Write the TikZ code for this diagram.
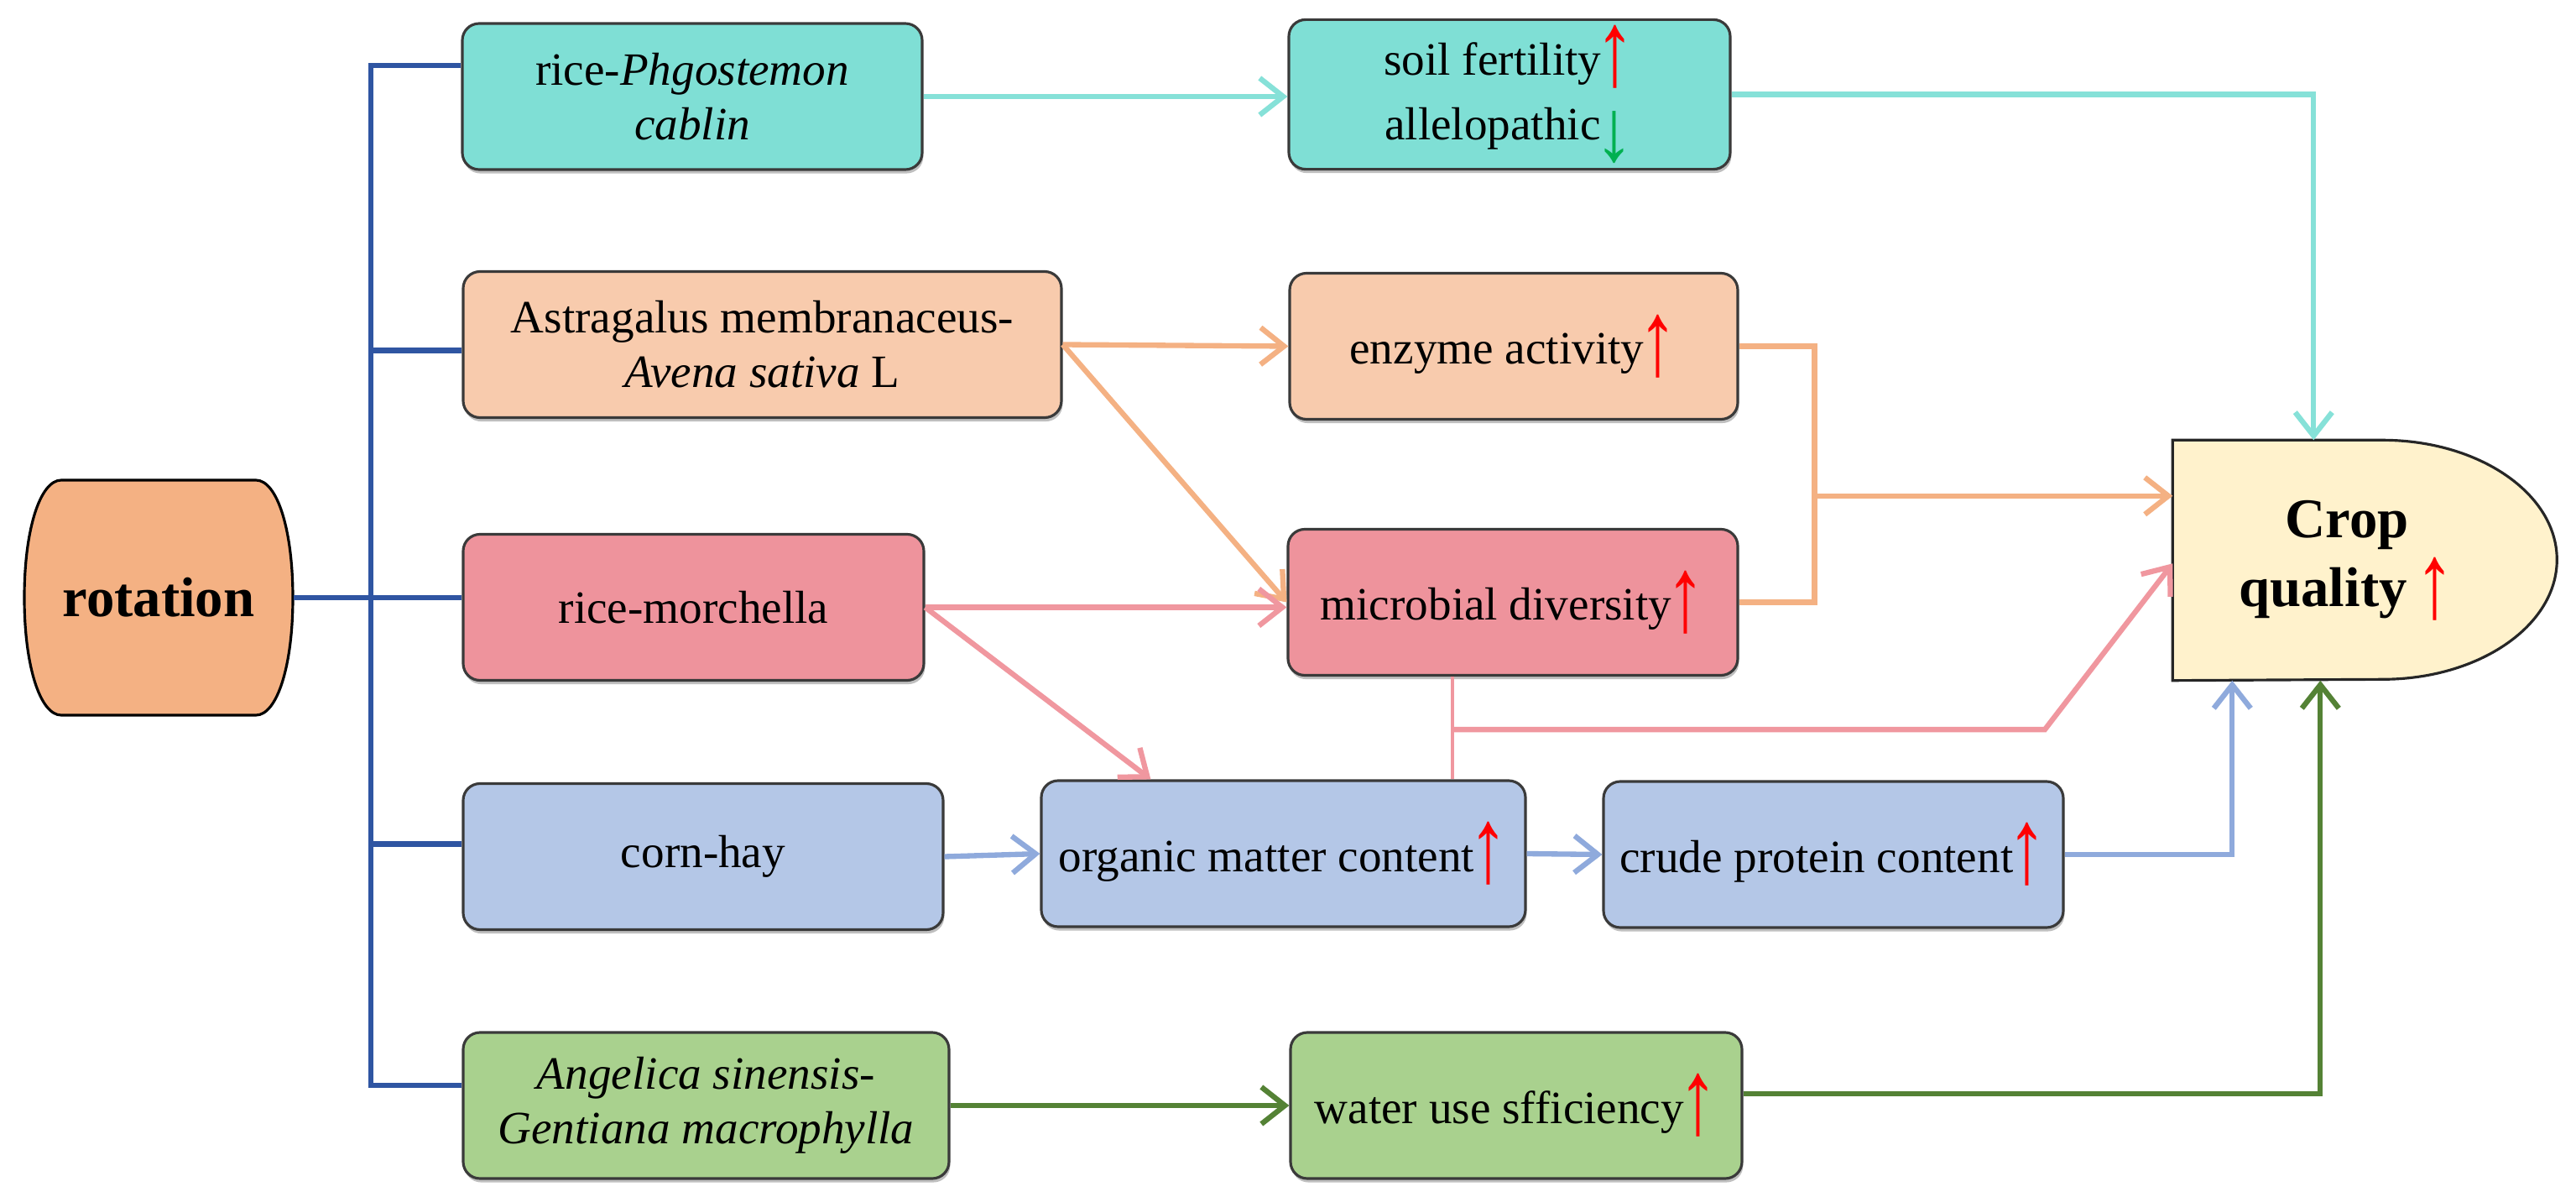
\documentclass[tikz,border=0pt]{standalone}
\usepackage{fontspec}
\setmainfont{Liberation Serif}
\usepackage{graphicx}
\usepackage{xcolor}
\usepackage{tikz}
\definecolor{trunkblue}{HTML}{2F55A2}
\definecolor{boxline}{HTML}{3A3A3A}
\definecolor{cyanfill}{HTML}{7FDFD5}
\definecolor{cyanline}{HTML}{86E1D8}
\definecolor{peachfill}{HTML}{F8CBAD}
\definecolor{orangeline}{HTML}{F4B183}
\definecolor{rotfill}{HTML}{F4B183}
\definecolor{pinkfill}{HTML}{EE939C}
\definecolor{pinkline}{HTML}{F0979F}
\definecolor{bluefill}{HTML}{B4C7E7}
\definecolor{blueline}{HTML}{8FAADC}
\definecolor{greenfill}{HTML}{A9D18E}
\definecolor{greenline}{HTML}{548235}
\definecolor{cropfill}{HTML}{FFF2CC}
\definecolor{downgreen}{HTML}{00B050}
\usetikzlibrary{arrows.meta, positioning, calc, shadows, backgrounds}

\newcommand{\up}{{\normalfont\fontsize{15.7}{18}\selectfont\kern-0.12em\textcolor{red}{\raisebox{-0.5ex}{\scalebox{1.7}[2.3]{↑}}}}}
\newcommand{\down}{{\normalfont\fontsize{15.7}{18}\selectfont\kern-0.12em\textcolor{downgreen}{\raisebox{-1.0ex}{\scalebox{1.7}[1.9]{↓}}}}}

\tikzset{
  box/.style={draw=boxline, line width=0.9pt, rounded corners=2mm, align=center,
    minimum height=1.74cm, inner sep=2pt, font=\fontsize{15.7}{18.5}\selectfont,
    drop shadow={shadow xshift=0.4pt, shadow yshift=-1.3pt, fill=black, opacity=0.25}},
  link/.style={line width=1.8pt, -{Straight Barb[length=2.8mm,width=4.4mm]}},
  trunk/.style={draw=trunkblue, line width=1.9pt},
  bigtext/.style={font=\bfseries\fontsize{19}{23.5}\selectfont, align=center, inner sep=0pt}
}

\begin{document}
\begin{tikzpicture}
\useasboundingbox (0,0) rectangle (30.70,-14.26);

% rotation treatments
\node[box, fill=cyanfill, minimum width=5.48cm] (phg) at (8.25,-1.15) {rice-\textit{Phgostemon}\\\textit{cablin}};
\node[box, fill=peachfill, minimum width=7.13cm] (astra) at (9.085,-4.105) {Astragalus membranaceus-\\\textit{Avena sativa} L};
\node[box, fill=pinkfill, minimum width=5.49cm] (morch) at (8.265,-7.235) {rice-morchella};
\node[box, fill=bluefill, minimum width=5.72cm] (corn) at (8.38,-10.205) {corn-hay};
\node[box, fill=greenfill, minimum width=5.79cm] (angel) at (8.415,-13.17) {\textit{Angelica sinensis-}\\\textit{Gentiana macrophylla}};

% effects
\node[box, fill=cyanfill, minimum width=5.26cm] (soil) at (17.99,-1.125) {soil fertility\up\\[1.2mm]allelopathic\down};
\node[box, fill=peachfill, minimum width=5.34cm] (enzyme) at (18.04,-4.125) {enzyme activity\up};
\node[box, fill=pinkfill, minimum width=5.36cm] (micro) at (18.03,-7.175) {microbial diversity\up};
\node[box, fill=bluefill, minimum width=5.77cm] (organic) at (15.295,-10.17) {organic matter content\up};
\node[box, fill=bluefill, minimum width=5.48cm] (crude) at (21.85,-10.18) {crude protein content\up};
\node[box, fill=greenfill, minimum width=5.38cm] (water) at (18.07,-13.17) {water use sfficiency\up};

% start and end
\node[bigtext, minimum width=3.2cm, minimum height=2.8cm] (rot) at (1.89,-7.12) {rotation};
\node[bigtext, minimum width=4.14cm, minimum height=2.85cm] (crop) at (27.97,-6.675) {Crop\\quality \up};

\begin{scope}[on background layer]
\draw[line width=0.9pt, fill=rotfill] (0.73,-5.72) -- (3.05,-5.72)
  .. controls (3.30,-5.72) and (3.49,-6.30) .. (3.49,-7.12)
  .. controls (3.49,-7.94) and (3.30,-8.52) .. (3.05,-8.52) -- (0.73,-8.52)
  .. controls (0.48,-8.52) and (0.29,-7.94) .. (0.29,-7.12)
  .. controls (0.29,-6.30) and (0.48,-5.72) .. (0.73,-5.72) -- cycle;
\draw[line width=0.9pt, draw=black!85, fill=cropfill] (crop.north west) -- ++(2.50,0)
  arc[start angle=90, end angle=-90, x radius=2.08, y radius=1.425] -- (crop.south west) -- cycle;
\end{scope}

% trunk
\coordinate (jt) at (4.42,-7.12);
\draw[trunk] (rot.east) -- (rot.east -| morch.west);
\draw[trunk] ([yshift=3.7mm]phg.west) -| ([yshift=2.4mm]angel.west -| jt) -- ([yshift=2.4mm]angel.west);
\foreach \n/\s in {astra/-0.7mm, corn/1.5mm}
  \draw[trunk] ([yshift=\s]\n.west -| jt) -- ([yshift=\s]\n.west);

% cyan
\draw[link, cyanline] (phg.east) -- (phg.east -| soil.west);
\draw[link, cyanline] (soil.east) -| ([xshift=16.8mm]crop.north west);

% orange
\draw[link, orangeline] (astra.east) -- (enzyme.west);
\draw[link, orangeline] (astra.east) -- (micro.west);
\coordinate (oj) at ([xshift=9mm]enzyme.east);
\draw[orangeline, line width=1.8pt] (enzyme.east) -- (oj) |- (micro.east);
\coordinate (oin) at ([yshift=-6.65mm]crop.north west);
\draw[link, orangeline] (oin -| oj) -- (oin);

% pink
\draw[link, pinkline] (morch.east) -- (morch.east -| micro.west);
\draw[link, pinkline] (morch.east) -- ([xshift=13.2mm]organic.north west);
\coordinate (pj) at ([xshift=-7.2mm]micro.south);
\draw[pinkline, line width=1pt] (pj) -- (pj |- organic.north);
\draw[link, pinkline] ([yshift=-6.3mm]pj) -- ++(7.06,0) -- ([yshift=-14.7mm]crop.north west);

% blue
\draw[link, blueline] (corn.east) -- (organic.west);
\draw[link, blueline] (organic.east) -- (crude.west);
\draw[link, blueline] (crude.east) -| ([xshift=7.1mm]crop.south west);

% green
\draw[link, greenline] (angel.east) -- (water.west);
\draw[link, greenline] ([yshift=1.4mm]water.east) -| ([xshift=17.6mm]crop.south west);
\end{tikzpicture}
\end{document}
